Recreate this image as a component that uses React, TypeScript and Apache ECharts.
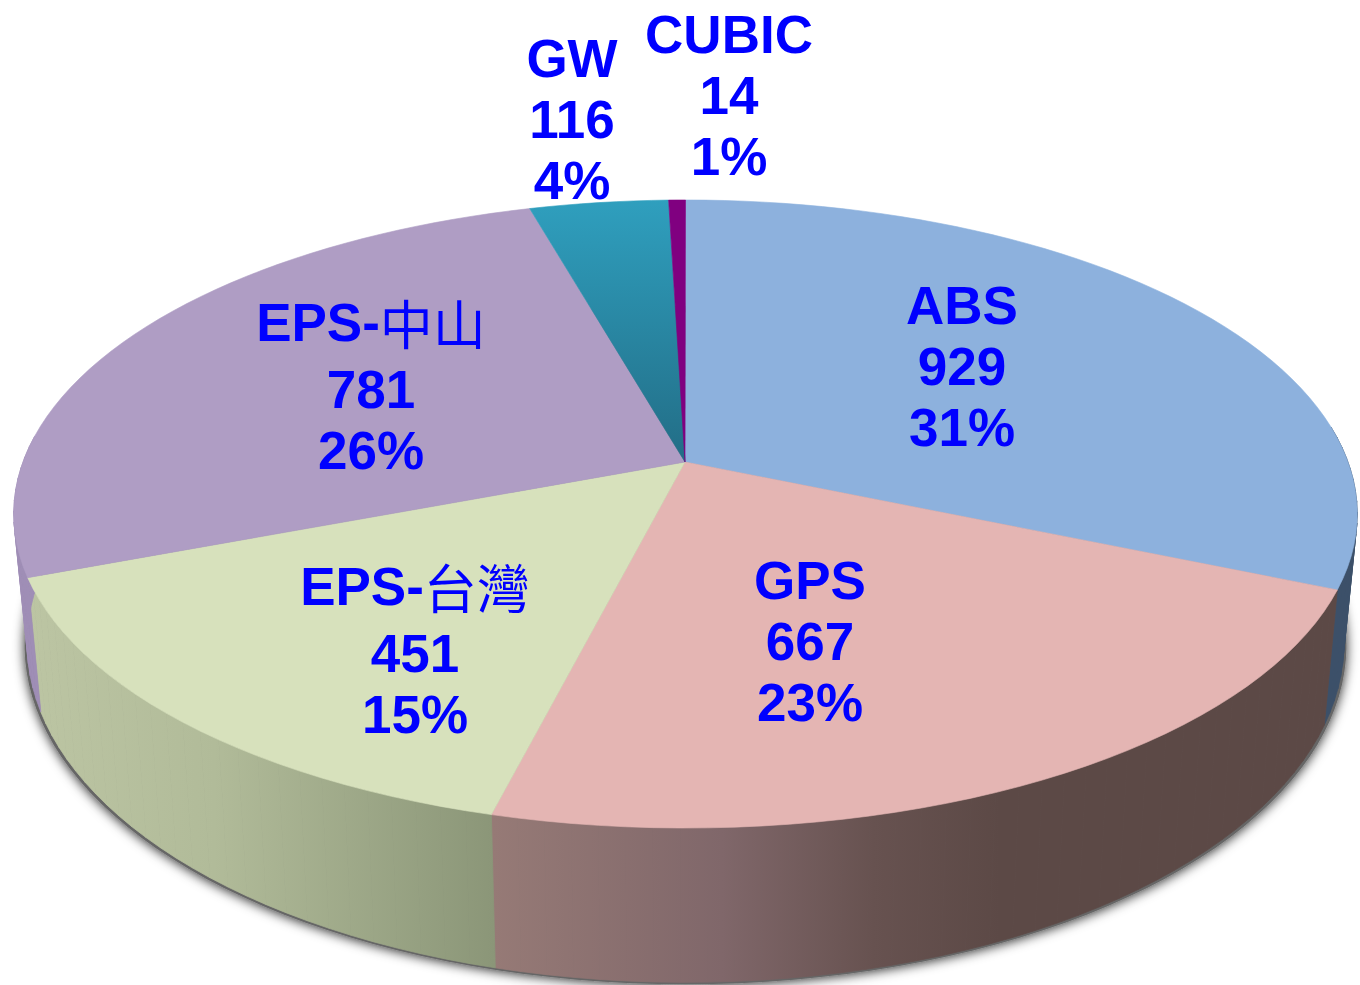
import React, { useEffect, useRef } from "react";
import * as echarts from "echarts";

const categories = ["ABS", "GPS", "EPS-台灣", "EPS-中山", "GW", "CUBIC"];
const values = [929, 667, 451, 781, 116, 14];
const percentLabels = ["31%", "23%", "15%", "26%", "4%", "1%"];

const topColors: any[] = [
  "#8DB1DD",
  "#E4B5B3",
  "#D7E1BC",
  "#AF9DC4",
  new echarts.graphic.LinearGradient(0, 200, 0, 462, [
    { offset: 0, color: "#2F9FBE" },
    { offset: 1, color: "#226D86" },
  ], true),
  "#800080",
];
const wallColors: any[] = [
  "#3C5069",
  new echarts.graphic.LinearGradient(494, 0, 1000, 0, [
    { offset: 0, color: "#967A76" },
    { offset: 0.45, color: "#80676A" },
    { offset: 0.75, color: "#675250" },
    { offset: 1, color: "#5C4946" },
  ], true),
  new echarts.graphic.LinearGradient(28, 0, 494, 0, [
    { offset: 0, color: "#BCC5A3" },
    { offset: 0.4, color: "#B1BB99" },
    { offset: 1, color: "#8B9678" },
  ], true),
  "#9F8EB6",
  "#226D86",
  "#5A005A",
];
// label anchors (pixels): centre of the text block
const labelAnchors = [
  [962, 366],
  [810, 641],
  [415, 647],
  [371, 383],
  [572, 119],
  [729, 95],
];

// Perspective model of the disc
const CX = 685.5;
const CY = 462;
const A = 662.5;
const B = 305.4;
const K = 0.1656;
const BOTTOM_SX = 0.98;
const BOTTOM_SY = 1.08;
const BOTTOM_Y = 587;

const total = values.reduce((s, v) => s + v, 0);
const cumulative = values.reduce<number[]>((acc, v) => [...acc, acc[acc.length - 1] + v], [0]);

function top(theta: number): [number, number] {
  const u = Math.sin(theta);
  const v = Math.cos(theta);
  const w = 1 + K * v;
  return [CX + (A * u) / w, CY - (B * v) / w];
}
function bottom(theta: number): [number, number] {
  const [x, y] = top(theta);
  return [CX + BOTTOM_SX * (x - CX), BOTTOM_Y + BOTTOM_SY * (y - CY)];
}
function sliceAngles(i: number): number[] {
  const a0 = (cumulative[i] / total) * Math.PI * 2;
  const a1 = (cumulative[i + 1] / total) * Math.PI * 2;
  const n = Math.max(2, Math.ceil((a1 - a0) / (Math.PI / 90)));
  const out: number[] = [];
  for (let k = 0; k <= n; k++) out.push(a0 + ((a1 - a0) * k) / n);
  return out;
}

function renderShadow(_: any, api: any) {
  const pts: [number, number][] = [];
  for (let k = 0; k < 180; k++) {
    const [x, y] = bottom((k / 180) * Math.PI * 2);
    pts.push([CX + 1.004 * (x - CX), y + 2]);
  }
  return {
    type: "polygon",
    shape: { points: pts },
    style: { fill: "#666", shadowBlur: 12, shadowColor: "rgba(0,0,0,0.85)", shadowOffsetY: 1 },
  };
}

function renderWall(params: any, api: any) {
  const i = params.dataIndex;
  const angles = sliceAngles(i);
  const fill = wallColors[i];
  const children: any[] = [];
  for (let k = 0; k < angles.length - 1; k++) {
    if (Math.cos((angles[k] + angles[k + 1]) / 2) > 0.1) continue;
    children.push({
      type: "polygon",
      shape: { points: [top(angles[k]), top(angles[k + 1]), bottom(angles[k + 1]), bottom(angles[k])] },
      style: { fill, stroke: fill, lineWidth: 0.8 },
    });
  }
  return { type: "group", children };
}

function renderTop(params: any, api: any) {
  const i = params.dataIndex;
  const pts = sliceAngles(i).map(top);
  pts.push([CX - 0.5, CY]);
  return {
    type: "polygon",
    shape: { points: pts },
    style: { fill: topColors[i], stroke: topColors[i], lineWidth: 0.6 },
  };
}

function renderLabel(params: any, api: any) {
  const i = params.dataIndex;
  const name = categories[i];
  const m = name.match(/^([A-Za-z-]+)(.*)$/);
  const head = m ? m[1] : name;
  const cjk = m ? m[2] : "";
  const first = cjk ? `{b|${head}}{c|${cjk}}` : `{b|${head}}`;
  const [x, y] = labelAnchors[i];
  return {
    type: "text",
    style: {
      x,
      y,
      text: `${first}\n{b|${api.value(0)}}\n{b|${percentLabels[i]}}`,
      textAlign: "center",
      textVerticalAlign: "middle",
      rich: {
        b: {
          fontFamily: '"Liberation Sans", Arial, sans-serif',
          fontWeight: "bold",
          fontSize: 53,
          lineHeight: 61,
          fill: "#0000FF",
          color: "#0000FF",
        },
        c: {
          fontFamily: '"Noto Sans CJK TC", sans-serif',
          fontWeight: "normal",
          fontSize: 53,
          lineHeight: 74,
          fill: "#0000FF",
          color: "#0000FF",
        },
      },
    },
  };
}

export default function App() {
  const ref = useRef<HTMLDivElement>(null);
  useEffect(() => {
    document.body.style.margin = "0";
    const chart = echarts.init(ref.current!, undefined, { renderer: "svg" });
    const common = { type: "custom", coordinateSystem: "none", silent: true, clip: false, data: values };
    chart.setOption({
      animation: false,
      backgroundColor: "#FFFFFF",
      series: [
        { ...common, renderItem: renderShadow, data: [total], z: 1 },
        { ...common, renderItem: renderWall, z: 2 },
        { ...common, renderItem: renderTop, z: 3 },
        { ...common, renderItem: renderLabel, z: 4 },
      ],
    });
    return () => chart.dispose();
  }, []);
  return <div ref={ref} style={{ width: 1360, height: 985, display: "block" }} />;
}
